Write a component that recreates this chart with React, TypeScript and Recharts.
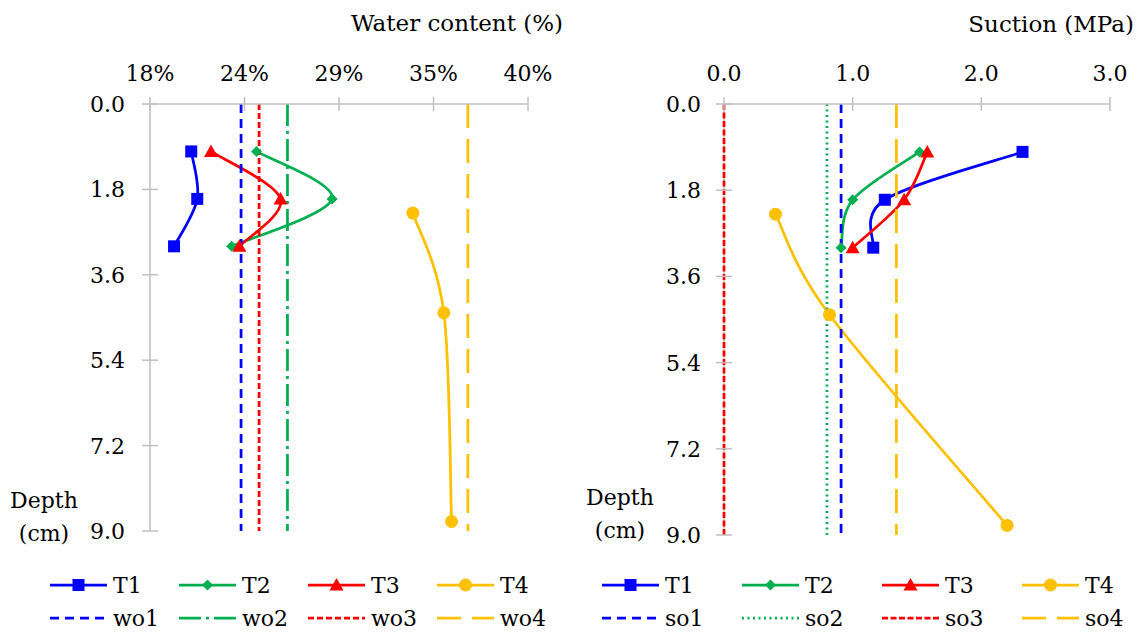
import React from 'react';
import { LineChart, Line, XAxis, YAxis } from 'recharts';

// depth of the measuring points (cm)
const depths = [1, 2, 3];
const depthsT4 = [2.3, 4.4, 8.8];
const depthTicks = [0, 1.8, 3.6, 5.4, 7.2, 9.0];

// water content (%)
const waterT1 = [20.4, 20.75, 19.4];
const waterT2 = [24.2, 28.6, 22.75];
const waterT3 = [21.55, 25.6, 23.2];
const waterT4 = [33.3, 35.1, 35.55];
const waterOpt = [23.3, 26.0, 24.35, 36.5]; // wo1..wo4
const waterTicks = [18, 23.5, 29, 34.5, 40];

// suction (MPa)
const suctionT1 = [2.32, 1.25, 1.16];
const suctionT2 = [1.52, 1.0, 0.91];
const suctionT3 = [1.58, 1.4, 1.0];
const suctionT4 = [0.4, 0.82, 2.2];
const suctionOpt = [0.91, 0.8, 0, 1.34]; // so1..so4
const suctionTicks = [0, 1, 2, 3];

const seriesNames = ['T1', 'T2', 'T3', 'T4'];
const waterOptNames = ['wo1', 'wo2', 'wo3', 'wo4'];
const suctionOptNames = ['so1', 'so2', 'so3', 'so4'];

const colors = ['#0000FF', '#00B050', '#FF0000', '#FFC000'];
const shapes = ['square', 'diamond', 'triangle', 'circle'];
const waterDash = ['9 6', '22 5 3 5', '6 3', '24 11'];
const suctionDash = ['9 6', '2 3.5', '6 2.5', '24 11'];

const FONT = '"DejaVu Serif", serif';
const AXIS = '#BFBFBF';

// Excel-like smoothed line (Catmull-Rom as bezier)
const excelSmooth: any = (context: any) => {
  let pts: number[][] = [];
  return {
    areaStart() {},
    areaEnd() {},
    lineStart() { pts = []; },
    point(x: number, y: number) { pts.push([+x, +y]); },
    lineEnd() {
      if (!pts.length) return;
      context.moveTo(pts[0][0], pts[0][1]);
      for (let i = 0; i < pts.length - 1; i++) {
        const p0 = pts[i - 1] || pts[i];
        const p1 = pts[i];
        const p2 = pts[i + 1];
        const p3 = pts[i + 2] || p2;
        context.bezierCurveTo(
          p1[0] + (p2[0] - p0[0]) / 6, p1[1] + (p2[1] - p0[1]) / 6,
          p2[0] - (p3[0] - p1[0]) / 6, p2[1] - (p3[1] - p1[1]) / 6,
          p2[0], p2[1]
        );
      }
    },
  };
};

const Marker = ({ shape, cx, cy, color }: any) => {
  if (cx == null || cy == null) return null;
  if (shape === 'square') return <rect x={cx - 6} y={cy - 6} width={12} height={12} fill={color} />;
  if (shape === 'diamond') return <polygon points={`${cx},${cy - 5.5} ${cx + 5.5},${cy} ${cx},${cy + 5.5} ${cx - 5.5},${cy}`} fill={color} />;
  if (shape === 'triangle') return <polygon points={`${cx},${cy - 7} ${cx + 7},${cy + 5.5} ${cx - 7},${cy + 5.5}`} fill={color} />;
  return <circle cx={cx} cy={cy} r={6.5} fill={color} />;
};

const toPoints = (ds: number[], vs: number[]) => ds.map((d, i) => ({ depth: d, v: vs[i] }));
const vertical = (v: number) => [{ depth: depthTicks[0], v }, { depth: depthTicks[depthTicks.length - 1], v }];

interface ProfileProps {
  left: number;
  width: number;
  plot: { left: number; right: number; top: number; bottom: number };
  domain: number[];
  ticks: number[];
  fmt: (v: number) => string;
  series: number[][];
  seriesDepths: number[][];
  opt: number[];
  dash: string[];
  yLabelGap: number;
}

const Profile: React.FC<ProfileProps> = ({ left, width, plot, domain, ticks, fmt, series, seriesDepths, opt, dash, yLabelGap }) => {
  const XH = 40;
  const YW = 60;
  const axisY = plot.top;
  const axisX = plot.left - left;

  const TopTick = (p: any) => (
    <g>
      <line x1={p.x} x2={p.x} y1={axisY - 7} y2={axisY + 7} stroke={AXIS} strokeWidth={1.5} />
      <text x={p.x} y={axisY - 23} textAnchor="middle" fontFamily={FONT} fontSize={22} fill="#000">{fmt(p.payload.value)}</text>
    </g>
  );
  const LeftTick = (p: any) => (
    <g>
      <line x1={axisX - 8} x2={axisX + 8} y1={p.y} y2={p.y} stroke={AXIS} strokeWidth={1.5} />
      <text x={axisX - yLabelGap} y={p.y} dy="0.36em" textAnchor="end" fontFamily={FONT} fontSize={22} fill="#000">{p.payload.value.toFixed(1)}</text>
    </g>
  );

  return (
    <div style={{ position: 'absolute', left, top: 0 }}>
      <LineChart
        width={width}
        height={632}
        layout="vertical"
        margin={{ top: plot.top - XH, left: plot.left - left - YW, right: left + width - plot.right, bottom: 632 - plot.bottom }}
      >
        <XAxis type="number" orientation="top" domain={domain} ticks={ticks} interval={0} height={XH}
          axisLine={{ stroke: AXIS, strokeWidth: 1.5 }} tickLine={false} tick={TopTick} />
        <YAxis type="number" dataKey="depth" domain={[0, 9]} ticks={depthTicks} interval={0} width={YW}
          axisLine={false} tickLine={false} tick={LeftTick} />
        {/* depth axis line drawn as a plain line so that series sit on top of it */}
        <Line data={vertical(domain[0])} dataKey="v" type="linear" stroke={AXIS} strokeWidth={1.5}
          dot={false} activeDot={false} isAnimationActive={false} />
        {series.map((vals, i) => (
          <Line key={seriesNames[i]} data={toPoints(seriesDepths[i], vals)} dataKey="v" type={excelSmooth}
            stroke={colors[i]} strokeWidth={2.75} isAnimationActive={false}
            dot={(p: any) => <Marker key={`${seriesNames[i]}-${p.index}`} shape={shapes[i]} cx={p.cx} cy={p.cy} color={colors[i]} />}
            activeDot={false} />
        ))}
        {opt.map((v, i) => (
          <Line key={`opt${i}`} data={vertical(v)} dataKey="v" type="linear"
            stroke={colors[i]} strokeWidth={2.75} strokeDasharray={dash[i]} dot={false} activeDot={false}
            isAnimationActive={false} />
        ))}
      </LineChart>
    </div>
  );
};

const Legend = ({ x0, step, names, optNames, dash }: any) => {
  const r1 = 585;
  const r2 = 618;
  const L = 57;
  return (
    <g fontFamily={FONT} fontSize={22} fill="#000">
      {names.map((n: string, i: number) => {
        const x = x0 + i * step;
        return (
          <g key={n}>
            <line x1={x} x2={x + L} y1={r1} y2={r1} stroke={colors[i]} strokeWidth={2.75} />
            <Marker shape={shapes[i]} cx={x + L / 2} cy={r1} color={colors[i]} />
            <text x={x + L + 6} y={r1 + 8}>{n}</text>
          </g>
        );
      })}
      {optNames.map((n: string, i: number) => {
        const x = x0 + i * step;
        return (
          <g key={n}>
            <line x1={x} x2={x + L} y1={r2} y2={r2} stroke={colors[i]} strokeWidth={2.75} strokeDasharray={dash[i]} />
            <text x={x + L + 6} y={r2 + 8}>{n}</text>
          </g>
        );
      })}
    </g>
  );
};

export default function App() {
  return (
    <div style={{ position: 'absolute', left: 0, top: 0, width: 1139, height: 632, background: '#fff', overflow: 'hidden' }}>
      <Profile
        left={0} width={570}
        plot={{ left: 150, right: 528, top: 104, bottom: 531 }}
        domain={[18, 40]} ticks={waterTicks} fmt={(v) => `${Math.round(v)}%`}
        series={[waterT1, waterT2, waterT3, waterT4]}
        seriesDepths={[depths, depths, depths, depthsT4]}
        opt={waterOpt} dash={waterDash} yLabelGap={25}
      />
      <Profile
        left={570} width={569}
        plot={{ left: 724, right: 1110, top: 104, bottom: 535 }}
        domain={[0, 3]} ticks={suctionTicks} fmt={(v) => v.toFixed(1)}
        series={[suctionT1, suctionT2, suctionT3, suctionT4]}
        seriesDepths={[depths, depths, depths, depthsT4]}
        opt={suctionOpt} dash={suctionDash} yLabelGap={23}
      />
      <svg width={1139} height={632} style={{ position: 'absolute', left: 0, top: 0, pointerEvents: 'none' }}>
        <g fontFamily={FONT} fontSize={23} fill="#000">
          <text x={563} y={31} textAnchor="end">Water content (%)</text>
          <text x={1134} y={32} textAnchor="end">Suction (MPa)</text>
        </g>
        <g fontFamily={FONT} fontSize={22} fill="#000">
          <text x={44} y={508} textAnchor="middle">Depth</text>
          <text x={44} y={541} textAnchor="middle">(cm)</text>
          <text x={620} y={505} textAnchor="middle">Depth</text>
          <text x={620} y={538} textAnchor="middle">(cm)</text>
        </g>
        <Legend x0={50} step={129} names={seriesNames} optNames={waterOptNames} dash={waterDash} />
        <Legend x0={602} step={140} names={seriesNames} optNames={suctionOptNames} dash={suctionDash} />
      </svg>
    </div>
  );
}
